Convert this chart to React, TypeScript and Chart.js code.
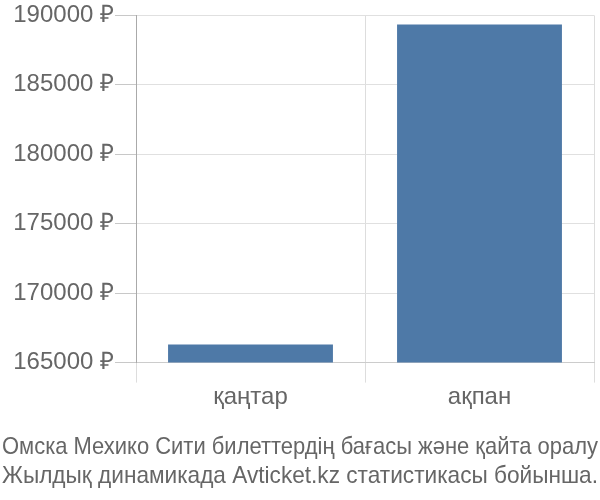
import { useEffect, useRef } from "react";
import { Chart, registerables, ChartConfiguration } from "chart.js";

Chart.register(...registerables);

const months = ["қаңтар", "ақпан"];
const prices = [166300, 189350];
const yTicks = [165000, 170000, 175000, 180000, 185000, 190000];
const caption = [
  "Омска Мехико Сити билеттердің бағасы және қайта оралу",
  "Жылдық динамикада Avticket.kz статистикасы бойынша.",
];

const FONT = "'Liberation Sans', Arial, sans-serif";

export default function App() {
  const chartRef = useRef<HTMLCanvasElement | null>(null);
  const chartInstanceRef = useRef<Chart<"bar", number[], string> | null>(null);

  useEffect(() => {
    const canvas = chartRef.current;
    if (!canvas) return;
    const ctx = canvas.getContext("2d");
    if (!ctx) return;

    if (chartInstanceRef.current) {
      chartInstanceRef.current.destroy();
    }

    const config: ChartConfiguration<"bar", number[], string> = {
      type: "bar",
      data: {
        labels: months,
        datasets: [
          {
            label: "",
            data: prices,
            backgroundColor: "#4e79a7",
            borderWidth: 0,
          },
        ],
      },
      options: {
        animation: false,
        responsive: false,
        layout: {
          padding: { left: 2, right: 2, top: 0, bottom: 0 },
        },
        scales: {
          x: {
            grid: {
              color: "#dddddd",
              tickLength: 20,
              offset: true,
            },
            border: { color: "#cccccc" },
            ticks: {
              color: "#666666",
              padding: 0,
              font: { family: FONT, size: 24 },
            },
          },
          y: {
            min: yTicks[0],
            max: yTicks[yTicks.length - 1],
            afterBuildTicks: (axis) => {
              axis.ticks = yTicks.map((v) => ({ value: v }));
            },
            afterFit: (axis) => {
              axis.width = 134;
            },
            grid: {
              color: "#e0e0e0",
              tickColor: "#c8c8c8",
              tickLength: 21,
              drawTicks: true,
            },
            border: { color: "#aaaaaa" },
            ticks: {
              color: "#666666",
              padding: 1,
              font: { family: FONT, size: 24 },
              callback: (v) => `${v} ₽`,
            },
          },
          // thin spacer on the right so the plot ends a few px before the caption edge
          yRight: {
            position: "right",
            grid: { display: false },
            border: { display: false },
            ticks: { display: false },
            afterFit: (axis) => {
              axis.width = 4;
            },
          },
        },
        plugins: {
          legend: { display: false },
          tooltip: { enabled: false },
          title: {
            display: true,
            position: "bottom",
            text: caption,
            color: "#666666",
            font: { family: FONT, size: 24, weight: "normal", lineHeight: 1.2 },
            padding: { top: 22, bottom: 9 },
          },
        },
      },
    };

    chartInstanceRef.current = new Chart(ctx, config);

    return () => {
      if (chartInstanceRef.current) {
        chartInstanceRef.current.destroy();
        chartInstanceRef.current = null;
      }
    };
  }, []);

  return (
    <div style={{ position: "absolute", left: 0, top: 0, width: 600, height: 500, background: "#fff" }}>
      <canvas ref={chartRef} width={600} height={500} style={{ width: 600, height: 500 }} />
    </div>
  );
}
